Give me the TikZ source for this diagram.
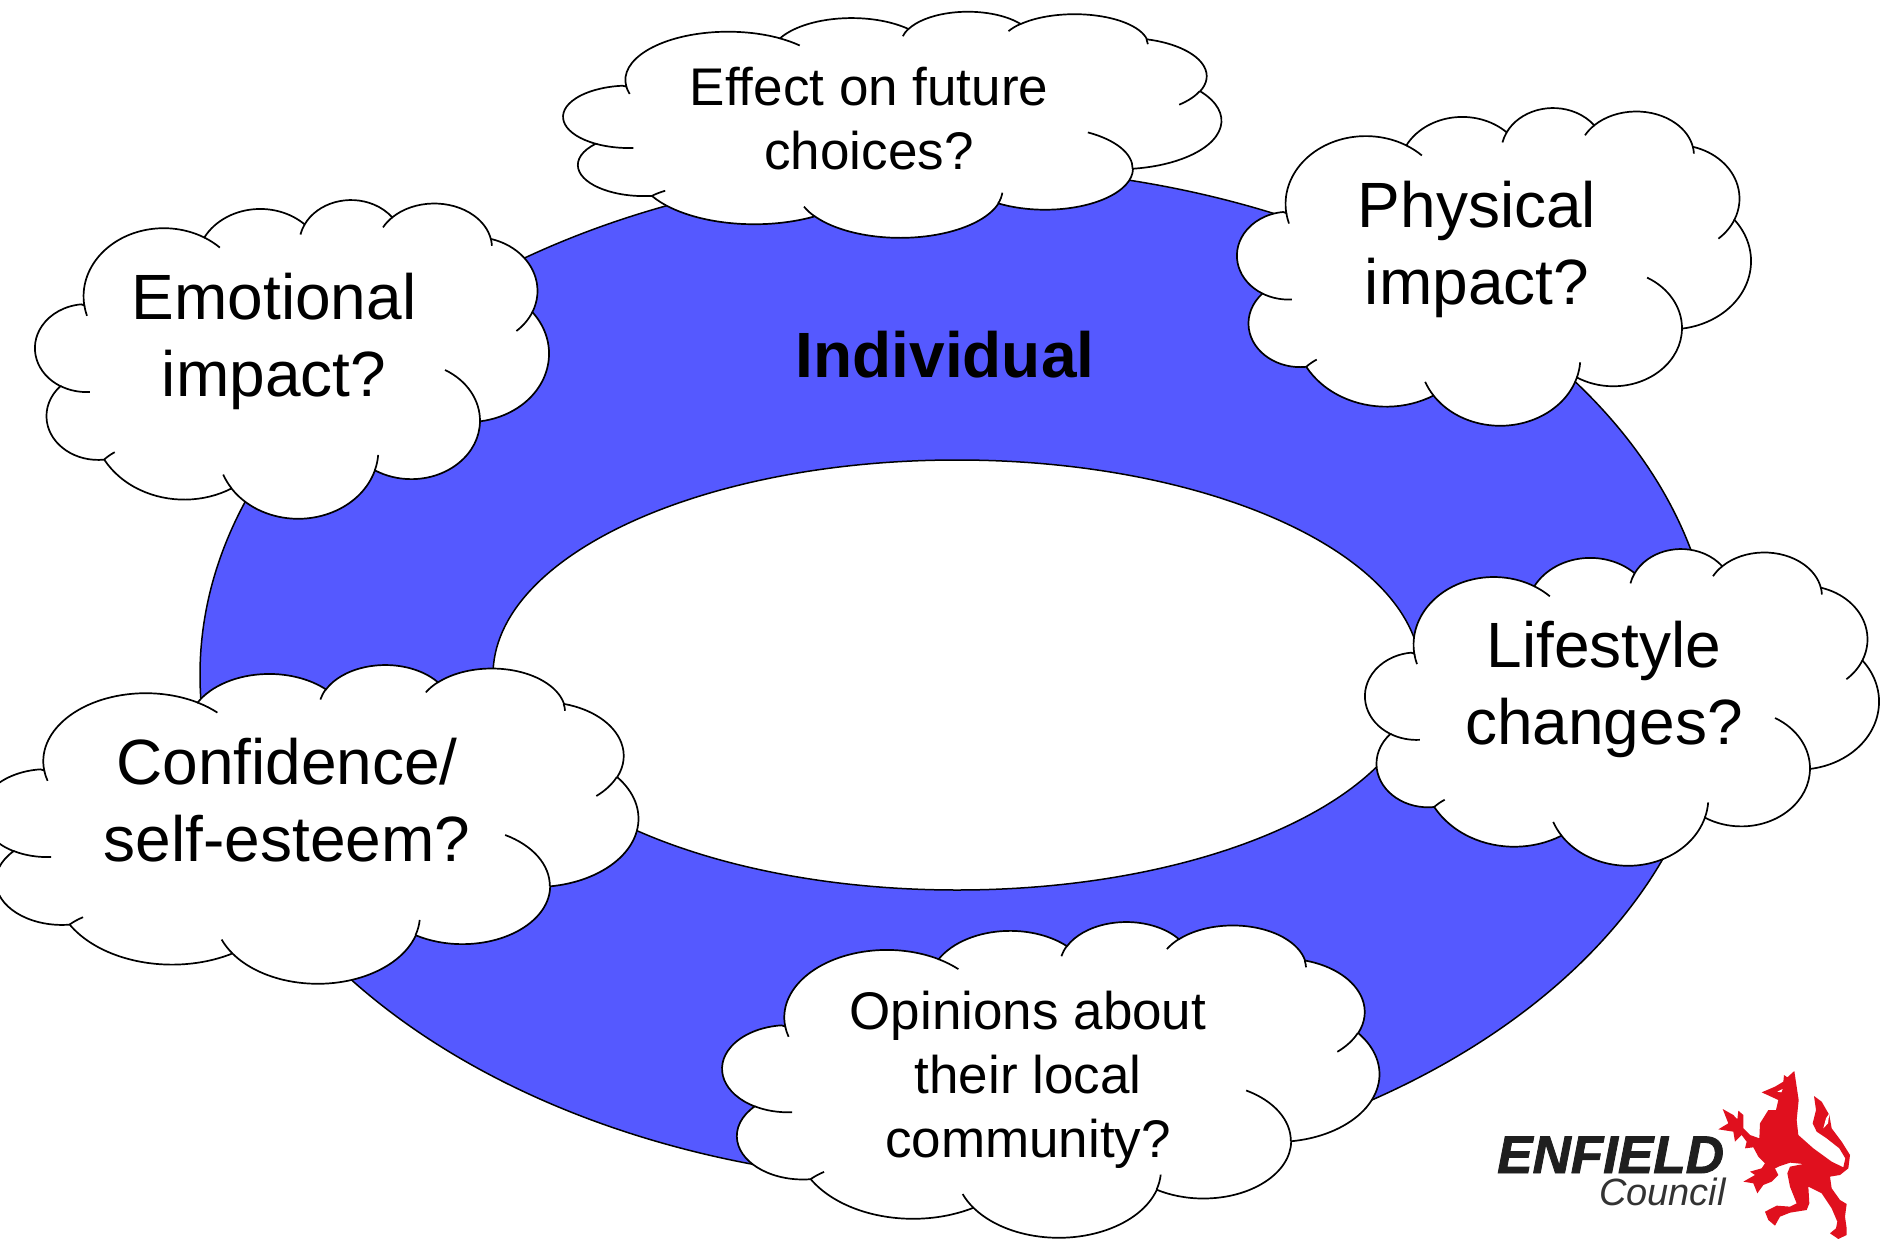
\documentclass[tikz,border=0pt]{standalone}
\usepackage{fontspec}
\setmainfont{Liberation Sans}
\newfontfamily\logofont[BoldItalicFeatures={FakeBold=1.6}]{Liberation Sans}
\definecolor{ringblue}{HTML}{5559FF}
\definecolor{wolfred}{HTML}{E0101E}
\newcommand\mkarc[5]{%
  \pgfmathsetmacro\tA{atan2((#2)*sin(#4),(#3)*cos(#4))}%
  \pgfmathsetmacro\tA{\tA+360*round(((#4)-(\tA))/360)}%
  \pgfmathsetmacro\vB{(#4)+(#5)}%
  \pgfmathsetmacro\tB{atan2((#2)*sin(\vB),(#3)*cos(\vB))}%
  \pgfmathsetmacro\tB{\tB+360*round((\vB-(\tB))/360)}%
  \expandafter\xdef\csname arc#1\endcsname{arc[start angle=\tA,end angle=\tB,x radius=#2,y radius=#3]}%
  \expandafter\xdef\csname sta#1\endcsname{\tA}%
  \expandafter\xdef\csname ena#1\endcsname{\tB}%
  \expandafter\xdef\csname xra#1\endcsname{#2}%
  \expandafter\xdef\csname yra#1\endcsname{#3}%
}
\mkarc{A}{6.753}{9.190}{-190.487}{123.781}
\mkarc{B}{5.333}{7.267}{-144.102}{89.945}
\mkarc{C}{4.365}{5.945}{-145.808}{99.723}
\mkarc{D}{4.857}{5.945}{-130.986}{117.242}
\mkarc{E}{5.333}{7.273}{-78.709}{109.027}
\mkarc{F}{6.775}{9.220}{-46.267}{130.269}
\mkarc{G}{5.785}{7.867}{0.625}{114.033}
\mkarc{H}{6.752}{9.215}{22.452}{115.173}
\mkarc{I}{7.720}{10.543}{66.243}{76.396}
\mkarc{J}{4.360}{5.918}{-274.942}{146.736}
\mkarc{K}{4.345}{5.945}{-246.829}{152.519}
% stub: from coordinate, arc id, st or en, signed extension
\newcommand\stub[4]{\draw (#1) arc[start angle=\csname #3a#2\endcsname,delta angle=#4,x radius=\csname xra#2\endcsname,y radius=\csname yra#2\endcsname];}
\newcommand\drawcloud[4]{%
  \begin{scope}[shift={(#1,#2)},xscale={(#3)/43.2},yscale={(#4)/43.2},cloudline]
    \draw[fill=white] (3.9,14.37) \arcA coordinate (j1) \arcB coordinate (j2) \arcC coordinate (j3)
      \arcD coordinate (j4) \arcE coordinate (j5) \arcF coordinate (j6) \arcG coordinate (j7)
      \arcH coordinate (j8) \arcI coordinate (j9) \arcJ coordinate (j10) \arcK -- cycle;
    \coordinate (j0) at (3.9,14.37);
    \stub{j0}{A}{st}{-9}
    \stub{j1}{A}{en}{14}
    \stub{j2}{C}{st}{-14}
    \stub{j3}{D}{st}{-16}
    \stub{j4}{D}{en}{9}
    \stub{j5}{E}{en}{25}
    \stub{j6}{G}{st}{-61}
    \stub{j7}{H}{st}{-13}
    \stub{j8}{H}{en}{13}
    \stub{j9}{J}{en}{15}
    \stub{j10}{K}{st}{-34}
  \end{scope}}
\tikzset{
  cloudline/.style={draw=black,line width=1.7pt},
  bigtext/.style={align=center,inner sep=0pt,font=\fontsize{64}{77}\selectfont},
  smalltext/.style={align=center,inner sep=0pt,font=\fontsize{53}{64}\selectfont},
}
\begin{document}
\begin{tikzpicture}[x=1pt,y=-1pt]
\useasboundingbox (0,0) rectangle (1883,1239);
\clip (0,0) rectangle (1883,1239);
\fill[white] (0,0) rectangle (1883,1239);
% ring
\path[draw=black,line width=1.5pt,fill=ringblue,even odd rule]
  (957,675) ellipse [x radius=757,y radius=508]
  (957,675) ellipse [x radius=464,y radius=215];
\node[inner sep=0pt,font=\fontsize{64}{77}\selectfont\bfseries] (individual) at (945,355) {Individual};
% clouds
\drawcloud{567}{11}{657}{227}
\drawcloud{38}{199}{513}{320}
\drawcloud{1240}{107}{513}{319}
\drawcloud{1368}{548}{513}{318}
\drawcloud{-15}{664}{656}{320}
\drawcloud{726}{921}{656}{317}
\node[bigtext] (emotional) at (274,341) {Emotional\\impact?};
\node[bigtext] (physical) at (1477,249) {Physical\\impact?};
\node[bigtext] (lifestyle) at (1604,689) {Lifestyle\\changes?};
\node[bigtext] (confidence) at (287,800) {Confidence/\\self-esteem?};
\node[smalltext] (effect) at (869,119) {Effect on future\\choices?};
\node[smalltext] (opinions) at (1028,1080) {Opinions about\\their local\\community?};
% logo
\node[inner sep=0pt,anchor=base west,font=\fontsize{53}{53}\selectfont\logofont\bfseries\itshape,text=black!88] (enfield) at (1497,1173) {ENFIELD};
\node[inner sep=0pt,anchor=base east,font=\fontsize{38}{38}\selectfont\itshape,text=black!80] (council) at (1726,1205) {Council};
\begin{scope}[shift={(1700,1060)},x=0.3333pt,y=-0.3333pt]
\fill[wolfred] (252,45)--(262,52)--(283,33)--(287,60)--(296,120)--(290,180)--(295,225)--(340,265)--(395,305)--(430,322)--(436,295)--(418,265)--(380,235)--(350,215)--(338,190)--(348,150)--(342,108)--(365,125)--(388,165)--(395,205)--(425,245)--(450,285)--(445,325)--(420,345)--(390,350)--(395,385)--(420,420)--(440,432)--(435,470)--(440,505)--(440,525)--(415,537)--(390,520)--(408,505)--(412,485)--(395,445)--(365,400)--(325,380)--(328,430)--(320,450)--(270,458)--(240,470)--(225,497)--(205,480)--(195,455)--(230,437)--(270,440)--(290,430)--(270,380)--(262,340)--(270,320)--(310,312)--(270,308)--(240,318)--(225,325)--(235,345)--(215,365)--(190,375)--(172,400)--(160,370)--(130,365)--(165,345)--(150,335)--(185,325)--(195,310)--(175,290)--(160,262)--(135,265)--(140,245)--(125,225)--(105,245)--(100,215)--(55,208)--(85,190)--(68,147)--(100,165)--(112,178)--(115,152)--(130,165)--(130,205)--(150,225)--(178,235)--(180,190)--(205,150)--(228,150)--(235,120)--(185,97)--(225,80)--(250,65)--cycle;
\fill[white] (370,205)--(378,175)--(388,160)--(384,190)--cycle;
\fill[white] (232,95)--(248,87)--(244,97)--cycle;
\end{scope}
\end{tikzpicture}
\end{document}
